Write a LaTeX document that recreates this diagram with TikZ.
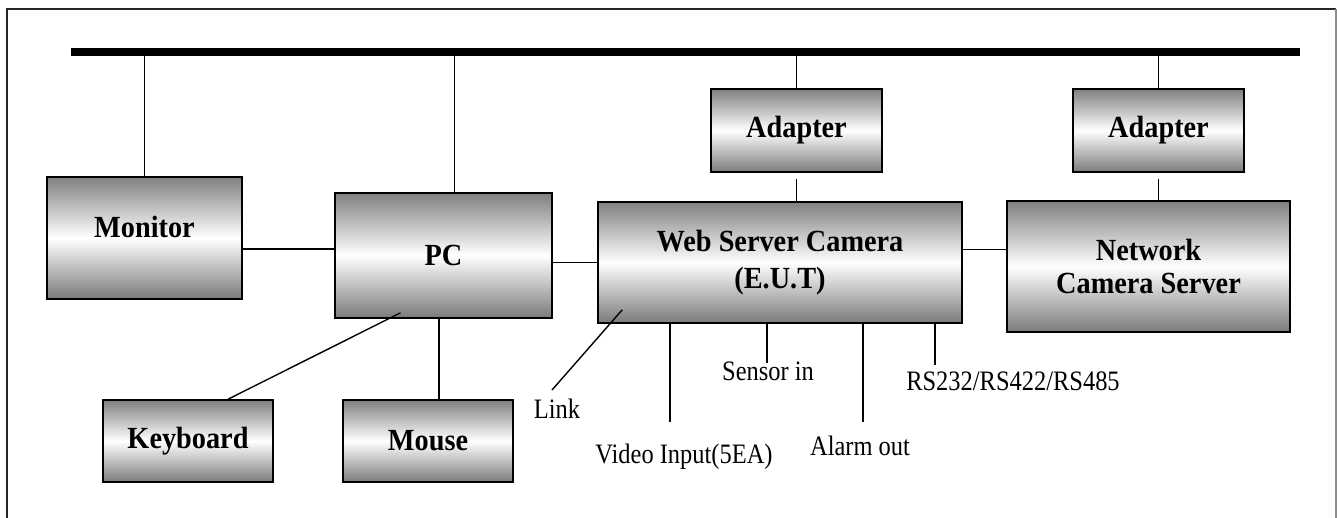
\documentclass[tikz,border=0pt]{standalone}
\usepackage{fontspec}
\setmainfont{Liberation Serif}
\newfontfamily\boxfont[FakeStretch=0.92]{Liberation Serif}
\newfontfamily\lblfont[FakeStretch=0.87]{Liberation Serif}
\usetikzlibrary{calc}

\begin{document}
\begin{tikzpicture}[
  x=0.02cm, y=-0.02cm,
  box/.style={draw, line width=0.9pt, top color=black!50, bottom color=black!52, middle color=white,
    font=\boxfont\fontsize{17.5}{19}\selectfont\bfseries, align=center, inner sep=0pt},
  wire/.style={line width=0.8pt},
  lbl/.style={font=\lblfont\fontsize{16}{18}\selectfont, inner sep=1pt}
]
\useasboundingbox (0,0) rectangle (1337,517);

% Rahmen
\draw[line width=1pt, black!85] (7,530) -- (7,9) -- (1336,9);
\draw[line width=1pt, black!45] (1336,9) -- (1336,530);

% Bus
\coordinate (busL) at (71,52);
\coordinate (busR) at (1300,52);
\draw[line width=4pt] (busL) -- (busR);

% Boxen
\node[box, minimum width=3.9cm, minimum height=2.44cm, text depth=0.45cm] (monitor) at (144.5,238) {Monitor};
\node[box, minimum width=4.34cm, minimum height=2.5cm] (pc) at (443.5,255.5) {PC};
\node[box, minimum width=7.28cm, minimum height=2.42cm] (camera) at (780,262.5) {Web Server Camera\\[2pt](E.U.T)};
\node[box, minimum width=3.42cm, minimum height=1.66cm] (adapterA) at (796.5,130.5) {Adapter};
\node[box, minimum width=3.42cm, minimum height=1.66cm] (adapterB) at (1158.5,130.5) {Adapter};
\node[box, minimum width=5.66cm, minimum height=2.62cm] (ncs) at (1148.5,266.5) {Network\\Camera Server};
\node[box, minimum width=3.4cm, minimum height=1.64cm] (keyboard) at (188,441) {Keyboard};
\node[box, minimum width=3.4cm, minimum height=1.64cm] (mouse) at (428,441) {Mouse};

% Verbindungen zum Bus
\draw[wire] (monitor.north) -- (monitor.north |- busL);
\draw[wire] ($(pc.north)+(11,0)$) -- ($(pc.north |- busL)+(11,0)$);
\draw[wire] (adapterA.north) -- (adapterA.north |- busL);
\draw[wire] (adapterB.north) -- (adapterB.north |- busL);

% Verbindungen zwischen Boxen
\coordinate (monOut) at ($(monitor.east)+(0,11)$);
\coordinate (camOut) at ($(camera.east)+(0,-13)$);
\draw[wire] (monOut) -- (monOut -| pc.west);
\draw[wire] (camera.west) -- (camera.west -| pc.east);
\draw[wire] (camOut) -- (camOut -| ncs.west);
\draw[wire] ($(adapterA.south)+(0,6)$) -- (adapterA.south |- camera.north);
\draw[wire] ($(adapterB.south)+(0,6)$) -- (adapterB.south |- ncs.north);
\draw[wire] ($(keyboard.north)+(40,0)$) -- ($(pc.south)+(-43,-6)$);
\draw[wire] ($(mouse.north)+(11,0)$) -- ($(mouse.north |- pc.south)+(11,0)$);

% Anschluesse der Kamera
\coordinate (linkEnd) at (552,390);
\coordinate (videoEnd) at (670,422);
\coordinate (sensorEnd) at (767,363);
\coordinate (alarmEnd) at (863,422);
\coordinate (rsEnd) at (935,365);
\draw[wire] ($(camera.south west)+(25,-14)$) -- (linkEnd);
\foreach \p in {videoEnd, sensorEnd, alarmEnd, rsEnd}
  \draw[wire] (\p |- camera.south) -- (\p);

\node[lbl] (link) at (557,409) {Link};
\node[lbl] (video) at (684,457) {Video Input(5EA)};
\node[lbl] (sensor) at (768,371) {Sensor in};
\node[lbl] (alarm) at (860,446) {Alarm out};
\node[lbl] (rs) at (1013,381) {RS232/RS422/RS485};

\end{tikzpicture}
\end{document}
